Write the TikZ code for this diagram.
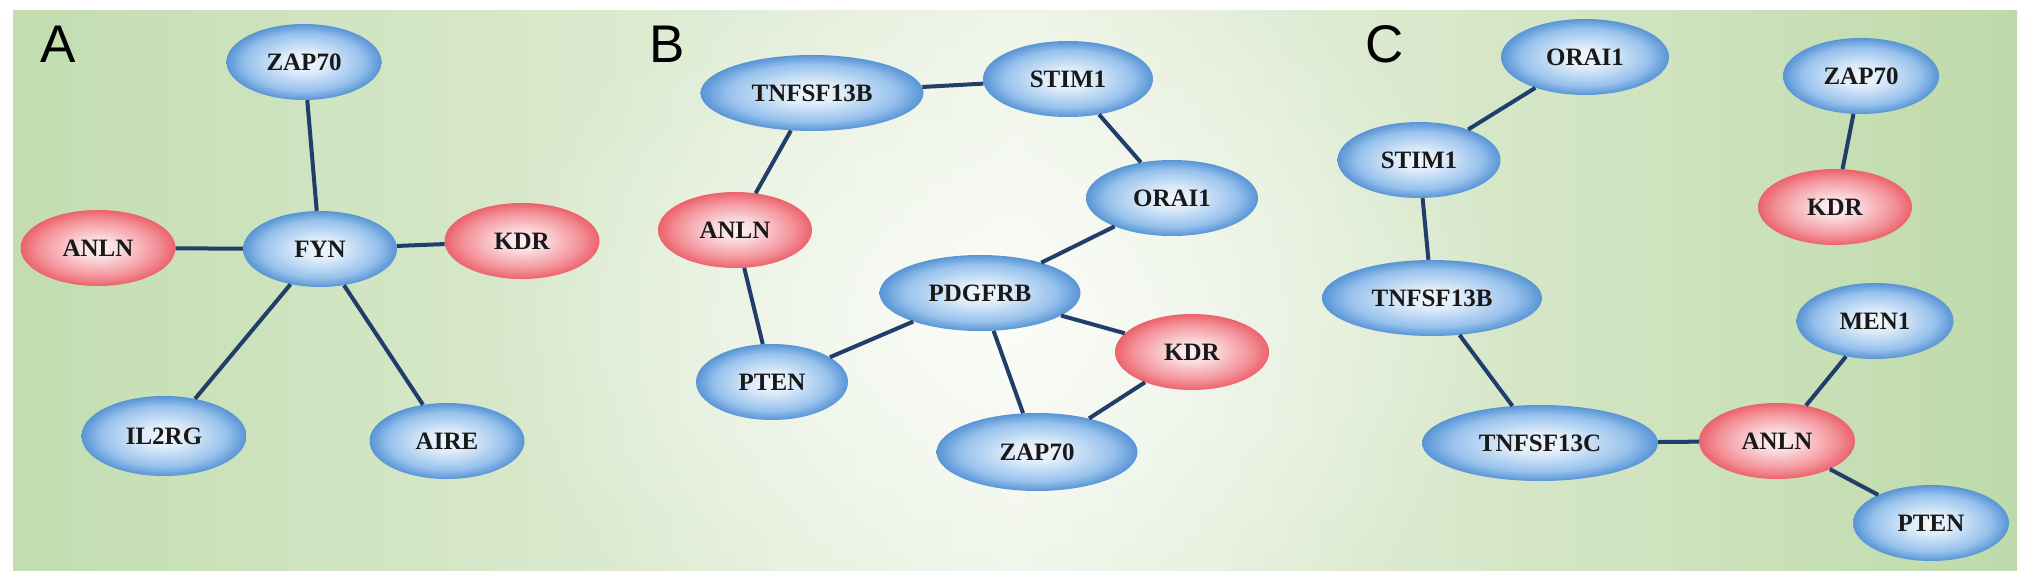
\documentclass[tikz,border=0pt]{standalone}
\usepackage{fontspec}
\setmainfont{Liberation Serif}
\newfontfamily\panelfont{Liberation Sans}
\usetikzlibrary{shapes.geometric,fadings}
\definecolor{bgEdgeL}{RGB}{194,221,176}
\definecolor{bgEdgeR}{RGB}{190,218,170}
\definecolor{bgMid}{RGB}{236,243,228}
\definecolor{edgecol}{RGB}{32,62,105}
\definecolor{nbA}{RGB}{243,248,253}
\definecolor{nbB}{RGB}{222,236,250}
\definecolor{nbC}{RGB}{150,193,236}
\definecolor{nbD}{RGB}{88,148,213}
\definecolor{nrA}{RGB}{253,243,244}
\definecolor{nrB}{RGB}{250,218,221}
\definecolor{nrC}{RGB}{243,145,152}
\definecolor{nrD}{RGB}{236,98,108}
\pgfdeclareradialshading{bluenode}{\pgfpoint{0bp}{0bp}}{color(0bp)=(nbA); color(7bp)=(nbB); color(19bp)=(nbC); color(25bp)=(nbD); color(50bp)=(nbD)}
\pgfdeclareradialshading{rednode}{\pgfpoint{0bp}{0bp}}{color(0bp)=(nrA); color(7bp)=(nrB); color(19bp)=(nrC); color(25bp)=(nrD); color(50bp)=(nrD)}
\tikzfading[name=softglow, inner color=transparent!0, outer color=transparent!100]
\tikzset{
  gene/.style={shape=ellipse, inner sep=0pt, minimum width=155pt, minimum height=76pt,
    font=\fontsize{25}{30}\selectfont\bfseries, text=black!90},
  bluegene/.style={gene, shade, shading=bluenode},
  redgene/.style={gene, shade, shading=rednode},
  link/.style={draw=edgecol, line width=4pt},
  panellabel/.style={anchor=base west, inner sep=0pt, font=\panelfont\fontsize{53}{60}\selectfont}
}
\begin{document}
\begin{tikzpicture}[x=1pt,y=-1pt]
\useasboundingbox (0,0) rectangle (2031,583);
\fill[white] (0,0) rectangle (2031,583);
\shade[left color=bgEdgeL, right color=bgEdgeR, middle color=bgMid] (13,11) rectangle (2017,570);
\fill[white, opacity=0.8, path fading=softglow] (1000,320) ellipse [x radius=520, y radius=380];
% panel labels
\node[panellabel] (labA) at (40,63) {A};
\node[panellabel] (labB) at (649,63) {B};
\node[panellabel] (labC) at (1365,63) {C};
% panel A
\node[bluegene] (aZAP) at (304,62) {ZAP70};
\node[redgene] (aANLN) at (98,248) {ANLN};
\node[bluegene, minimum width=154pt] (aFYN) at (320,249) {FYN};
\node[redgene] (aKDR) at (522,241) {KDR};
\node[bluegene, minimum width=165pt, minimum height=80pt] (aIL2RG) at (164,436) {IL2RG};
\node[bluegene] (aAIRE) at (447,441) {AIRE};
% panel B
\node[bluegene, minimum width=223pt] (bTNF) at (812,93) {TNFSF13B};
\node[bluegene, minimum width=170pt] (bSTIM) at (1068,79) {STIM1};
\node[bluegene, minimum width=172pt] (bORAI) at (1172,198) {ORAI1};
\node[redgene, minimum width=154pt] (bANLN) at (735,230) {ANLN};
\node[bluegene, minimum width=201pt] (bPDG) at (980,293) {PDGFRB};
\node[redgene, minimum width=154pt] (bKDR) at (1192,352) {KDR};
\node[bluegene, minimum width=152pt] (bPTEN) at (772,382) {PTEN};
\node[bluegene, minimum width=201pt, minimum height=78pt] (bZAP) at (1037,452) {ZAP70};
% panel C
\node[bluegene, minimum width=168pt] (cORAI) at (1585,57) {ORAI1};
\node[bluegene, minimum width=156pt] (cZAP) at (1861,76) {ZAP70};
\node[bluegene, minimum width=163pt] (cSTIM) at (1419,160) {STIM1};
\node[redgene, minimum width=154pt] (cKDR) at (1835,207) {KDR};
\node[bluegene, minimum width=220pt] (cTNFB) at (1432,298) {TNFSF13B};
\node[bluegene, minimum width=157pt] (cMEN) at (1875,321) {MEN1};
\node[bluegene, minimum width=236pt] (cTNFC) at (1540,443) {TNFSF13C};
\node[redgene, minimum width=156pt] (cANLN) at (1777,441) {ANLN};
\node[bluegene, minimum width=156pt] (cPTEN) at (1931,523) {PTEN};
% edges A
\draw[link] (aFYN) -- (aZAP);
\draw[link] (aFYN) -- (aANLN);
\draw[link] (aFYN) -- (aKDR);
\draw[link] (aFYN) -- (aIL2RG);
\draw[link] (aFYN) -- (aAIRE);
% edges B
\draw[link] (bTNF) -- (bSTIM);
\draw[link] (bSTIM) -- (bORAI);
\draw[link] (bTNF) -- (bANLN);
\draw[link] (bANLN) -- (bPTEN);
\draw[link] (bORAI) -- (bPDG);
\draw[link] (bPDG) -- (bPTEN);
\draw[link] (bPDG) -- (bKDR);
\draw[link] (bPDG) -- (bZAP);
\draw[link] (bKDR) -- (bZAP);
% edges C
\draw[link] (cORAI) -- (cSTIM);
\draw[link] (cSTIM) -- (cTNFB);
\draw[link] (cTNFB) -- (cTNFC);
\draw[link] (cTNFC) -- (cANLN);
\draw[link] (cANLN) -- (cMEN);
\draw[link] (cANLN) -- (cPTEN);
\draw[link] (cZAP) -- (cKDR);
\end{tikzpicture}
\end{document}
